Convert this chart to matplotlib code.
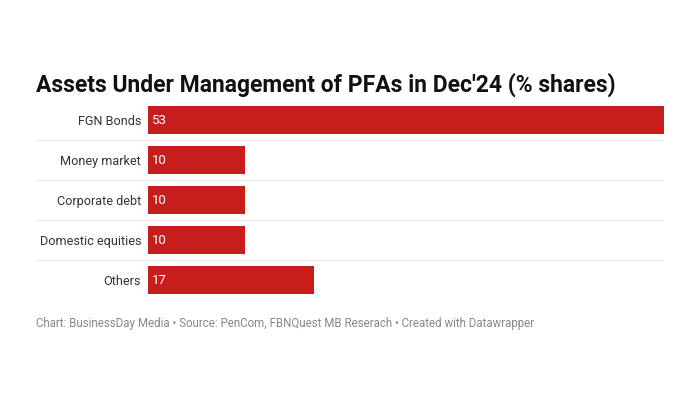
import matplotlib
matplotlib.use("Agg")
from matplotlib import pyplot as plt

categories = ["FGN Bonds", "Money market", "Corporate debt", "Domestic equities", "Others"]
shares = [53, 10, 10, 10, 17]

plt.rcParams['font.family'] = ['Roboto', 'DejaVu Sans']

fig = plt.figure(figsize=(7, 4), dpi=100)
ax = fig.add_axes([148/700, 0.25, 516/700, 0.5])

ypos = list(range(len(categories)))
ax.barh(ypos, shares, height=0.7, color="#c71e1d")
ax.set_xlim(0, max(shares))
ax.set_ylim(len(categories) - 0.5, -0.5)

for y, v in zip(ypos, shares):
    ax.text(0.4, y, str(v), color="white", va="center", ha="left", fontsize=9.5)

ax.set_yticks(ypos)
ax.set_yticklabels(categories, fontsize=9.1, color="#333333")
ax.tick_params(axis="y", length=0, pad=5)
ax.set_xticks([])
for s in ax.spines.values():
    s.set_visible(False)

# dotted separators between rows
for y in ypos[:-1]:
    ax.hlines(y + 0.5, (36 - 148) / 516, 1, transform=ax.get_yaxis_transform(),
              colors="#cccccc", linestyles=(0, (1, 1.2)), linewidth=0.7, clip_on=False)

fig.text(36/700, 1 - 85/400, "Assets Under Management of PFAs in Dec'24 (% shares)",
         fontsize=16.5, fontweight="bold", color="#111111", va="center", ha="left")
fig.text(36/700, 1 - 323/400,
         "Chart: BusinessDay Media \u2022 Source: PenCom, FBNQuest MB Reserach \u2022 Created with Datawrapper",
         fontsize=8.3, color="#888888", va="center", ha="left")

fig.savefig("out.png", dpi=100)
